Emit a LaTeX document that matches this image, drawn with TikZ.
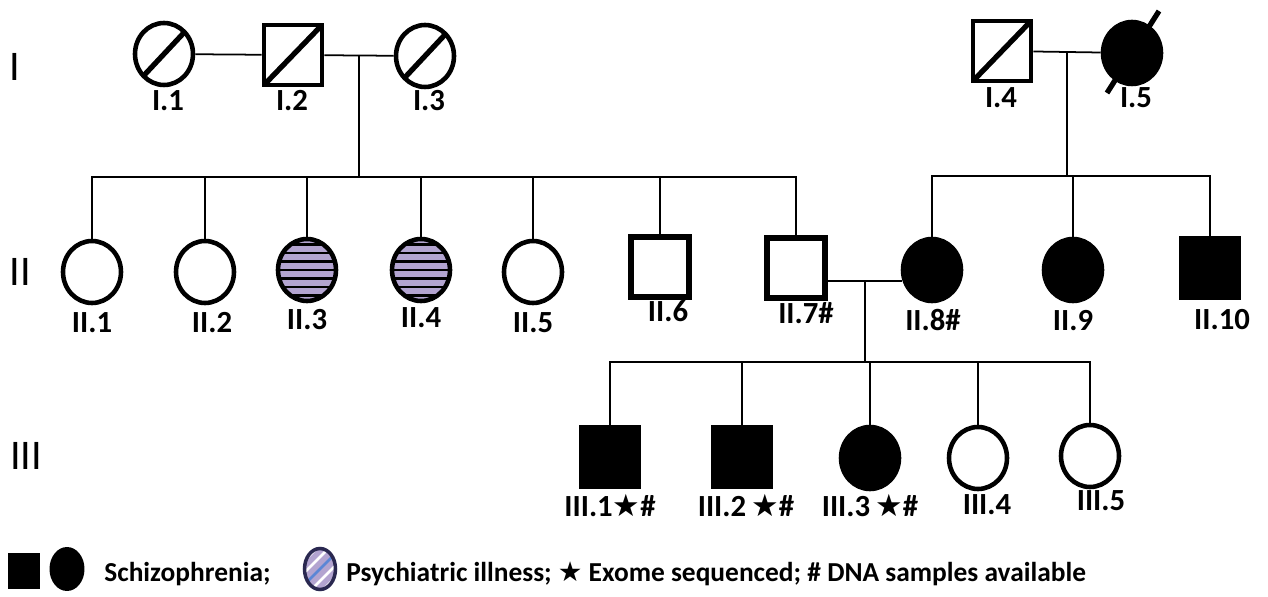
\documentclass[tikz,border=0pt]{standalone}
\usepackage{fontspec}
\setmainfont{Carlito}
\newfontfamily\symfont{DejaVu Sans}
\usetikzlibrary{shapes.geometric,calc,positioning}
\definecolor{colorpsy}{HTML}{B3A4D0}
\definecolor{colornavy}{HTML}{2A2850}
\definecolor{colorstripe}{HTML}{5B86D6}
\newcommand\st{{\symfont ★}}
\tikzset{
  male/.style={draw, rectangle, line width=2.7pt, minimum width=1.16cm, minimum height=1.2cm, inner sep=0pt},
  female/.style={draw, ellipse, line width=2.6pt, minimum width=1.16cm, minimum height=1.24cm, inner sep=0pt},
  affected/.style={fill=black},
  dead/.style={path picture={\draw[line width=3pt] (path picture bounding box.south west) -- (path picture bounding box.north east);}},
  psych/.style={fill=colorpsy, path picture={
    \foreach \k in {-3,...,3}
      \draw[line width=1.4pt] ($(path picture bounding box.center)+(-40,\k*8.5)$) -- ++(80,0);}},
  legstripes/.style={path picture={
    \foreach \k in {-24,-12,12,24}
      \draw[white, line width=1.6pt] ($(path picture bounding box.center)+(\k-30,30)$) -- ++(60,-60);
    \draw[colorstripe, line width=1.6pt] ($(path picture bounding box.center)+(-30,30)$) -- ++(60,-60);}},
  lab/.style={font=\bfseries\fontsize{17.5}{20}\selectfont, inner sep=0pt},
  gen/.style={font=\fontsize{24}{28}\selectfont, inner sep=0pt},
  leg/.style={font=\bfseries\fontsize{15.6}{18}\selectfont, anchor=west, inner sep=0pt},
  link/.style={line width=1pt}
}

\begin{document}
\begin{tikzpicture}[x=0.02cm, y=-0.02cm]
\useasboundingbox (0,0) rectangle (1268,597);

% generations
\node[gen] (g1) at (15,67) {I};
\node[gen] (g2) at (20,272) {II};
\node[gen] (g3) at (26,456) {III};

% generation I
\node[female,dead] (I1) at (164,54) {};
\node[male,dead] (I2) at (293,55) {};
\node[female,dead] (I3) at (425,56) {};
\node[male,dead] (I4) at (1002,51) {};
\node[female,affected] (I5) at (1132,53) {};
\draw[line width=3pt] ($(I5.center)+(-25,40)$) -- ($(I5.center)+(27,-42)$);

\node[lab] (lI1) at (168,101) {I.1};
\node[lab] (lI2) at (292,101) {I.2};
\node[lab] (lI3) at (429,101) {I.3};
\node[lab] (lI4) at (1001,98) {I.4};
\node[lab] (lI5) at (1136,98) {I.5};

% generation II
\node[female] (II1) at (92,272) {};
\node[female] (II2) at (205,272) {};
\node[female,psych] (II3) at (307,270) {};
\node[female,psych] (II4) at (421,270) {};
\node[female] (II5) at (533,272) {};
\node[male,line width=3pt] (II6) at (660,267) {};
\node[male,line width=3pt] (II7) at (796,268) {};
\node[female,affected] (II8) at (932,270) {};
\node[female,affected] (II9) at (1073,270) {};
\node[male,affected] (II10) at (1210,268) {};

\node[lab] (lII1) at (92,323) {II.1};
\node[lab] (lII2) at (212,323) {II.2};
\node[lab] (lII3) at (307,320) {II.3};
\node[lab] (lII4) at (421,318) {II.4};
\node[lab] (lII5) at (533,323) {II.5};
\node[lab] (lII6) at (668,311) {II.6};
\node[lab] (lII7) at (806,313) {II.7\#};
\node[lab] (lII8) at (933,320) {II.8\#};
\node[lab] (lII9) at (1073,321) {II.9};
\node[lab] (lII10) at (1222,320) {II.10};

% generation III
\node[male,affected] (III1) at (610,457) {};
\node[male,affected] (III2) at (742,457) {};
\node[female,affected] (III3) at (870,458) {};
\node[female] (III4) at (978,458) {};
\node[female] (III5) at (1090,456) {};

\node[lab] (lIII1) at (610,505) {III.1\st\#};
\node[lab] (lIII2) at (746,505) {III.2\,\st\#};
\node[lab] (lIII3) at (870,505) {III.3\,\st\#};
\node[lab] (lIII4) at (987,505) {III.4};
\node[lab] (lIII5) at (1101,501) {III.5};

% couples and sibships
\draw[link] (I1) -- (I2);
\draw[link] (I2) -- (I3);
\coordinate (m1) at ($(I2.east)!0.5!(I3.west)$);
\coordinate (s1) at (m1 |- 0,177);
\draw[link] (m1) -- (s1);
\draw[link] (II1.north) -- (II1.north |- s1) -- (II7.north |- s1) -- (II7.north);
\foreach \c in {II2,II3,II4,II5,II6}
  \draw[link] (\c.north) -- (\c.north |- s1);

\draw[link] (I4) -- (I5);
\coordinate (m2) at ($(I4.east)!0.5!(I5.west)$);
\coordinate (s2) at (m2 |- 0,176);
\draw[link] (m2) -- (s2);
\draw[link] (II8.north) -- (II8.north |- s2) -- (II10.north |- s2) -- (II10.north);
\draw[link] (II9.north) -- (II9.north |- s2);

\draw[link] (II7.east |- II8.200) -- (II8.200);
\coordinate (m3) at ($(II7.east |- II8.200)!0.5!(II8.200)$);
\coordinate (s3) at (m3 |- 0,362);
\draw[link] (m3) -- (s3);
\draw[link] (III1.north) -- (III1.north |- s3) -- (III5.north |- s3) -- (III5.north);
\foreach \c in {III2,III3,III4}
  \draw[link] (\c.north) -- (\c.north |- s3);

% key
\node[fill=black, minimum width=0.64cm, minimum height=0.74cm, inner sep=0pt] (kS) at (24,571) {};
\node[ellipse, fill=black, minimum width=0.7cm, minimum height=0.88cm, inner sep=0pt] (kC) at (67,569) {};
\node[leg] (kSt) at (104,574) {Schizophrenia;};
\node[ellipse, draw=colornavy, line width=2pt, fill=colorpsy, minimum width=0.62cm, minimum height=0.82cm, inner sep=0pt, legstripes] (kP) at (320,569) {};
\node[leg] (kPt) at (346,574) {Psychiatric illness; \st{} Exome sequenced; \# DNA samples available};
\end{tikzpicture}
\end{document}
